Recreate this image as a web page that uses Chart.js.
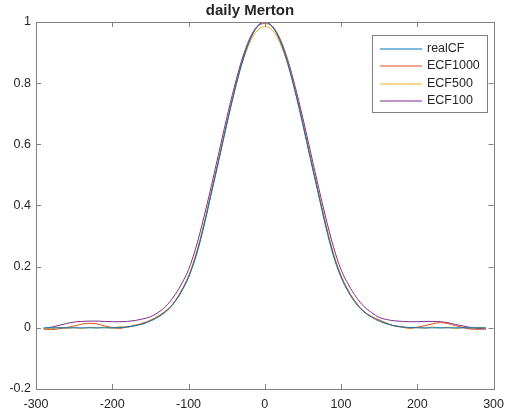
<!DOCTYPE html>
<html lang="en">
<head>
    <meta charset="UTF-8">
    <title>daily Merton</title>
    <script src="https://cdn.jsdelivr.net/npm/chart.js"></script>
    <style>
        body { margin: 0; background: #fff; }
    </style>
</head>
<body>
    <canvas id="chart" width="512" height="419"></canvas>

    <script>
        // x grid of the curves
        const xs = [-290, -280, -270, -260, -250, -240, -230, -220, -210, -200,
                    -190, -180, -170, -160, -150, -140, -130, -120, -110, -100,
                    -90, -80, -70, -60, -50, -40, -30, -20, -10, 0,
                    10, 20, 30, 40, 50, 60, 70, 80, 90, 100,
                    110, 120, 130, 140, 150, 160, 170, 180, 190, 200,
                    210, 220, 230, 240, 250, 260, 270, 280, 290];

        const realCF = [0, 0, 0, 0, 0, 0, 0, 0, 0, 0,
                        0.001, 0.003, 0.007, 0.013, 0.022, 0.035, 0.052, 0.078, 0.115, 0.165,
                        0.235, 0.33, 0.44, 0.55, 0.663, 0.77, 0.865, 0.938, 0.984, 1.0,
                        0.984, 0.938, 0.865, 0.77, 0.663, 0.55, 0.44, 0.33, 0.235, 0.165,
                        0.115, 0.078, 0.052, 0.035, 0.022, 0.013, 0.007, 0.003, 0.001, 0,
                        0, 0, 0, 0, 0, 0, 0, 0, 0];

        const ecf1000 = [-0.004, -0.006, -0.003, 0.001, 0.006, 0.012, 0.015, 0.013, 0.006, 0.001,
                         -0.002, 0.004, 0.007, 0.016, 0.024, 0.038, 0.055, 0.08, 0.118, 0.168,
                         0.24, 0.335, 0.445, 0.556, 0.668, 0.775, 0.868, 0.94, 0.984, 0.995,
                         0.985, 0.942, 0.87, 0.776, 0.67, 0.557, 0.446, 0.337, 0.241, 0.17,
                         0.12, 0.081, 0.054, 0.036, 0.026, 0.014, 0.006, 0.002, -0.001, 0.002,
                         0.007, 0.013, 0.017, 0.014, 0.007, 0.001, -0.004, -0.005, -0.003];

        const ecf500 = [-0.002, -0.003, 0.002, -0.002, 0.001, -0.003, 0.002, -0.001, 0.003, -0.002,
                        0.004, 0.001, 0.01, 0.012, 0.026, 0.036, 0.056, 0.079, 0.12, 0.17,
                        0.243, 0.338, 0.447, 0.556, 0.666, 0.771, 0.862, 0.93, 0.972, 0.985,
                        0.973, 0.931, 0.862, 0.772, 0.667, 0.557, 0.448, 0.34, 0.244, 0.171,
                        0.118, 0.082, 0.053, 0.038, 0.024, 0.016, 0.006, 0.004, -0.002, 0.002,
                        -0.002, 0.003, -0.001, 0.002, -0.003, 0.001, -0.002, 0.002, -0.001];

        const ecf100 = [-0.003, 0.002, 0.008, 0.014, 0.019, 0.021, 0.022, 0.022, 0.021, 0.02,
                        0.02, 0.021, 0.024, 0.029, 0.036, 0.05, 0.07, 0.1, 0.14, 0.19,
                        0.265, 0.36, 0.465, 0.575, 0.685, 0.787, 0.877, 0.945, 0.986, 1.0,
                        0.986, 0.945, 0.877, 0.787, 0.685, 0.575, 0.465, 0.36, 0.265, 0.19,
                        0.14, 0.1, 0.07, 0.05, 0.034, 0.027, 0.023, 0.021, 0.02, 0.02,
                        0.021, 0.021, 0.02, 0.017, 0.011, 0.006, 0.001, -0.002, -0.004];

        const seriesNames = ['realCF', 'ECF1000', 'ECF500', 'ECF100'];
        const seriesColors = ['#0072BD', '#D95319', '#EDB120', '#7E2F8E'];
        const xTicks = [-300, -200, -100, 0, 100, 200, 300];
        const yTicks = [-0.2, 0, 0.2, 0.4, 0.6, 0.8, 1];

        const font = 'Liberation Sans, Arial, sans-serif';
        const textColor = '#262626';
        const axisColor = '#808080';

        const series = [realCF, ecf1000, ecf500, ecf100];
        const datasets = series.map((vals, k) => ({
            label: seriesNames[k],
            data: xs.map((x, i) => ({ x: x, y: vals[i] })),
            borderColor: seriesColors[k],
            borderWidth: 1,
            pointRadius: 0,
            cubicInterpolationMode: 'monotone',
            fill: false
        }));

        // box round the plot, inward ticks on all four sides, legend in the corner
        const matlabFrame = {
            id: 'matlabFrame',
            afterDraw(chart) {
                const ctx = chart.ctx;
                const a = chart.chartArea;
                const sx = chart.scales.x, sy = chart.scales.y;
                const tl = 5;
                ctx.save();
                ctx.strokeStyle = axisColor;
                ctx.lineWidth = 1;
                ctx.strokeRect(Math.round(a.left) + 0.5, Math.round(a.top) + 0.5,
                               Math.round(a.right - a.left), Math.round(a.bottom - a.top));
                ctx.beginPath();
                xTicks.forEach(v => {
                    const px = Math.round(sx.getPixelForValue(v)) + 0.5;
                    ctx.moveTo(px, a.bottom); ctx.lineTo(px, a.bottom - tl);
                    ctx.moveTo(px, a.top); ctx.lineTo(px, a.top + tl);
                });
                yTicks.forEach(v => {
                    const py = Math.round(sy.getPixelForValue(v)) + 0.5;
                    ctx.moveTo(a.left, py); ctx.lineTo(a.left + tl, py);
                    ctx.moveTo(a.right, py); ctx.lineTo(a.right - tl, py);
                });
                ctx.stroke();

                // legend
                const lx = 372, ly = 35, lw = 115, lh = 77;
                ctx.fillStyle = '#fff';
                ctx.fillRect(lx, ly, lw, lh);
                ctx.strokeStyle = axisColor;
                ctx.strokeRect(lx + 0.5, ly + 0.5, lw, lh);
                ctx.font = '12.5px ' + font;
                ctx.textBaseline = 'middle';
                ctx.textAlign = 'left';
                chart.data.datasets.forEach((ds, k) => {
                    const ry = Math.round(ly + 13.5 + k * 17.5);
                    ctx.strokeStyle = ds.borderColor;
                    ctx.beginPath();
                    ctx.moveTo(380, ry); ctx.lineTo(422, ry);
                    ctx.stroke();
                    ctx.fillStyle = textColor;
                    ctx.fillText(ds.label, 427, ry);
                });
                ctx.restore();
            }
        };

        new Chart(document.getElementById('chart'), {
            type: 'line',
            data: { datasets: datasets },
            options: {
                responsive: false,
                animation: false,
                layout: { padding: { left: 0, right: 12, top: 0, bottom: 0 } },
                plugins: {
                    legend: { display: false },
                    tooltip: { enabled: false },
                    title: {
                        display: true,
                        text: 'daily Merton',
                        color: textColor,
                        font: { family: font, size: 15, weight: 'bold', lineHeight: 1.2 },
                        padding: { top: 2, bottom: 2 }
                    }
                },
                scales: {
                    x: {
                        type: 'linear',
                        min: -300,
                        max: 300,
                        afterFit: s => { s.height = 30; },
                        afterBuildTicks: s => { s.ticks = xTicks.map(v => ({ value: v })); },
                        grid: { display: false, drawTicks: false },
                        border: { display: false },
                        ticks: { color: textColor, font: { family: font, size: 12.5 }, padding: 8, maxRotation: 0 }
                    },
                    y: {
                        min: -0.2,
                        max: 1,
                        afterFit: s => { s.width = 36; },
                        afterBuildTicks: s => { s.ticks = yTicks.map(v => ({ value: v })); },
                        grid: { display: false, drawTicks: false },
                        border: { display: false },
                        ticks: {
                            color: textColor,
                            font: { family: font, size: 12.5 },
                            padding: 5,
                            callback: v => String(Number(v.toFixed(1)))
                        }
                    }
                }
            },
            plugins: [matlabFrame]
        });
    </script>
</body>
</html>
